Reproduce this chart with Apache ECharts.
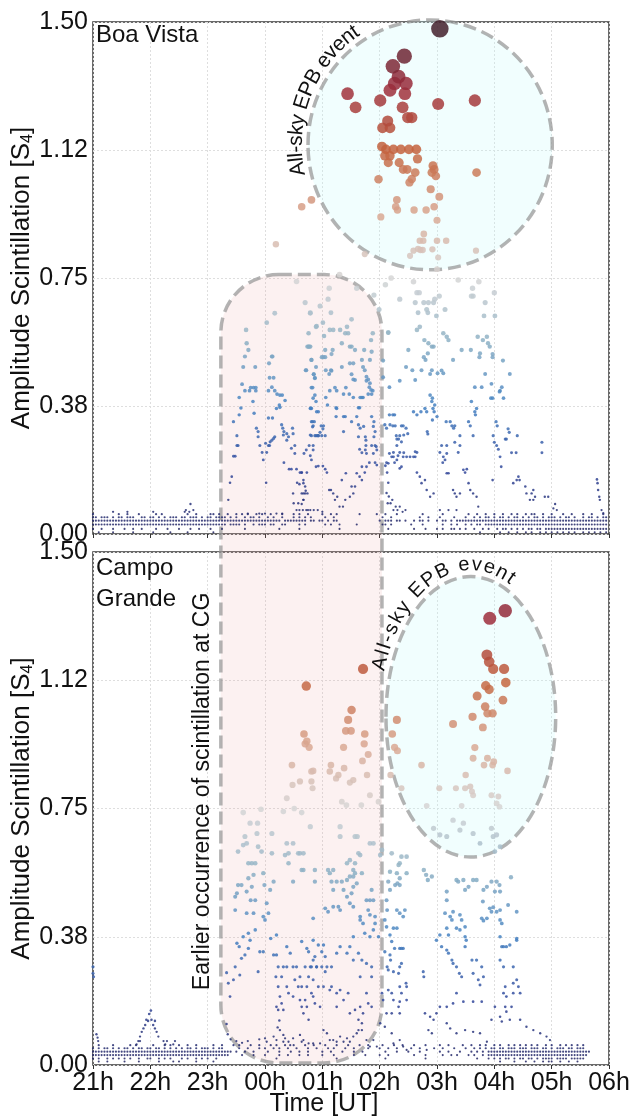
<!DOCTYPE html>
<html><head><meta charset="utf-8">
<script src="https://cdn.jsdelivr.net/npm/echarts@6/dist/echarts.min.js"></script>
<style>html,body{margin:0;padding:0;background:#fff}#c{width:633px;height:1119px}</style>
</head><body><div id="c"></div>
<script>
// ---------- tick labels ----------
const xTickLabels = ['21h','22h','23h','00h','01h','02h','03h','04h','05h','06h'];
const yTickLabels = ['0.00','0.38','0.75','1.12','1.50'];
const panelNames = ['Boa Vista', 'Campo\nGrande'];

// ---------- Boa Vista (top)  [hours since 21:00 UT, S4] ----------
const bvHigh = [[6.05,1.48],[5.43,1.40],[5.23,1.37],[5.33,1.34],[5.46,1.32],[5.26,1.32],[5.18,1.30],[5.44,1.29],[4.44,1.29],[4.58,1.25],[5.01,1.27],[5.40,1.25],[6.02,1.26],[6.66,1.27],[5.49,1.22],[5.56,1.22],[5.14,1.21],[5.05,1.19],[5.18,1.19],[5.04,1.135],[5.11,1.127],[5.24,1.127],[5.37,1.127],[5.51,1.127],[5.64,1.127],[5.09,1.108],[5.18,1.108],[5.15,1.088],[5.66,1.099],[5.34,1.088],[5.41,1.068],[5.48,1.068],[5.62,1.059],[5.56,1.04],[5.52,1.03],[5.93,1.079],[5.95,1.068],[5.91,1.059],[5.98,1.049],[6.69,1.059],[4.98,1.039],[5.89,1.01],[6.04,0.988],[5.30,0.979],[5.28,0.959],[5.31,0.949],[5.60,0.949],[5.81,0.949],[5.95,0.959],[5.02,0.929],[6.00,0.919],[3.81,0.979],[3.64,0.959],[3.19,0.849],[5.77,0.879],[5.70,0.859],[5.76,0.859],[6.00,0.859],[6.16,0.859],[5.59,0.83],[5.67,0.835],[5.71,0.832],[5.75,0.832],[5.92,0.834],[6.68,0.83],[5.53,0.815],[6.02,0.81],[4.74,0.82],[6.00,0.776]];
const bvUpper = [[5.35,0.688],[5.59,0.739],[5.65,0.707],[5.69,0.707],[5.62,0.678],[5.67,0.648],[5.77,0.678],[5.85,0.678],[5.82,0.658],[5.84,0.648],[5.94,0.678],[5.96,0.688],[6.04,0.697],[5.99,0.639],[6.14,0.658],[6.37,0.744],[6.62,0.72],[6.63,0.697],[6.60,0.697],[6.73,0.739],[6.84,0.678],[7.00,0.707],[6.82,0.639],[7.01,0.639],[4.99,0.658],[3.70,0.678],[3.96,0.668],[4.10,0.688],[4.12,0.72],[3.79,0.648],[4.15,0.648],[3.90,0.609],[4.01,0.619],[4.03,0.58],[3.76,0.588],[3.03,0.619],[3.17,0.647],[3.79,0.647],[3.89,0.607],[5.15,0.59],[4.51,0.629],[5.10,0.73],[5.20,0.75],[4.90,0.70],[4.60,0.72],[3.55,0.74],[4.30,0.76]];
const bvMidA = [[2.36,0.10],[2.39,0.15],[2.42,0.168],[2.45,0.228],[2.48,0.228],[2.51,0.259],[2.53,0.259],[2.51,0.288],[2.45,0.329],[2.55,0.349],[2.58,0.369],[2.55,0.40],[2.60,0.439],[2.65,0.42],[2.73,0.42],[2.75,0.429],[2.80,0.429],[2.84,0.429],[2.84,0.42],[2.79,0.388],[2.62,0.489],[2.83,0.489],[2.65,0.52],[2.71,0.539],[2.68,0.559],[2.67,0.598],[2.81,0.354],[2.85,0.31],[2.88,0.30],[2.88,0.285],[2.91,0.259],[2.95,0.239],[2.97,0.217],[3.01,0.266],[3.03,0.239],[3.06,0.259],[3.09,0.27],[3.02,0.15],[3.07,0.50],[3.08,0.458],[3.15,0.458],[3.12,0.52],[3.13,0.52],[3.06,0.42],[3.12,0.43],[3.17,0.42],[3.21,0.41],[3.26,0.407],[3.30,0.407],[3.35,0.391],[3.20,0.368],[3.25,0.378],[3.26,0.371],[3.06,0.34],[3.13,0.34],[3.29,0.32],[3.31,0.31],[3.33,0.30],[3.38,0.294],[3.41,0.285],[3.38,0.275],[3.32,0.29],[3.48,0.31],[3.49,0.294],[3.52,0.259],[3.46,0.251],[3.52,0.236],[3.17,0.285],[3.12,0.275],[3.08,0.259],[3.15,0.28],[3.33,0.209],[3.42,0.19],[3.46,0.19],[3.55,0.19],[3.61,0.18],[3.64,0.18],[3.67,0.158],[3.70,0.139],[3.71,0.127],[3.67,0.119],[3.49,0.119],[3.56,0.15],[3.60,0.146],[3.67,0.10],[3.64,0.088],[3.68,0.236],[3.72,0.246],[3.77,0.259],[3.79,0.229],[3.81,0.217],[3.84,0.246],[3.84,0.259],[3.87,0.288],[3.91,0.288],[3.93,0.288],[3.83,0.314],[3.79,0.29],[3.81,0.329],[3.72,0.48],[3.81,0.51],[3.85,0.468],[3.87,0.456],[3.81,0.429],[3.84,0.398],[3.79,0.368],[3.80,0.369],[3.76,0.549],[3.79,0.549],[3.89,0.489]];
const bvMidB = [[3.74,0.549],[3.77,0.549],[4.05,0.539],[4.18,0.539],[4.16,0.527],[4.19,0.598],[4.13,0.598],[4.31,0.598],[4.34,0.559],[4.45,0.588],[4.48,0.549],[4.51,0.549],[4.57,0.539],[4.73,0.539],[4.86,0.534],[4.85,0.568],[4.88,0.588],[4.43,0.607],[4.40,0.588],[3.81,0.51],[3.99,0.518],[4.02,0.518],[4.05,0.518],[4.06,0.48],[4.15,0.48],[4.16,0.478],[4.34,0.489],[4.48,0.50],[4.54,0.50],[4.69,0.51],[4.71,0.489],[4.74,0.48],[4.83,0.51],[3.71,0.48],[3.85,0.468],[3.87,0.458],[4.12,0.469],[4.51,0.468],[4.54,0.453],[4.57,0.451],[4.77,0.461],[4.80,0.453],[4.83,0.442],[4.82,0.43],[4.77,0.449],[4.85,0.422],[3.83,0.429],[4.06,0.40],[4.09,0.378],[4.13,0.42],[4.22,0.429],[4.25,0.42],[4.37,0.41],[4.41,0.429],[4.47,0.41],[4.54,0.40],[4.66,0.40],[4.69,0.40],[4.71,0.40],[4.80,0.41],[4.86,0.41],[4.88,0.42],[3.87,0.407],[3.89,0.388],[3.93,0.358],[3.90,0.358],[3.81,0.368],[3.83,0.329],[3.86,0.329],[3.84,0.317],[3.98,0.317],[4.02,0.317],[3.81,0.288],[3.89,0.288],[3.93,0.288],[3.96,0.298],[4.01,0.308],[3.99,0.288],[4.05,0.288],[4.24,0.37],[4.25,0.368],[4.24,0.344],[4.37,0.344],[4.40,0.344],[4.51,0.329],[4.37,0.30],[4.63,0.37],[4.65,0.37],[4.60,0.344],[4.63,0.32],[4.66,0.31],[4.72,0.315],[4.75,0.285],[4.63,0.285],[4.76,0.275],[4.86,0.344],[4.90,0.329],[4.89,0.315],[4.92,0.30],[4.75,0.246],[4.69,0.238],[4.65,0.248],[4.76,0.259],[4.77,0.236],[4.86,0.259],[4.92,0.259],[4.90,0.285],[4.94,0.256],[4.95,0.246],[3.64,0.18],[3.73,0.18],[3.67,0.149],[3.64,0.119],[3.70,0.119],[3.74,0.119],[3.67,0.10],[3.72,0.07],[3.79,0.07],[3.89,0.197],[3.93,0.199],[4.01,0.199],[4.05,0.19],[4.08,0.18],[4.12,0.129],[4.15,0.129],[4.19,0.119],[4.22,0.10],[4.26,0.109],[4.30,0.08],[4.36,0.08],[4.40,0.10],[4.48,0.109],[4.54,0.119],[4.51,0.139],[4.57,0.139],[4.34,0.158],[4.41,0.178],[4.60,0.178],[4.69,0.197],[4.65,0.168],[4.69,0.158],[4.77,0.197],[4.74,0.18],[4.82,0.209],[4.89,0.236],[4.92,0.209],[4.95,0.202]];
const bvMidC = [[5.15,0.59],[5.50,0.539],[5.65,0.598],[5.70,0.607],[5.78,0.568],[5.85,0.559],[5.91,0.549],[5.94,0.549],[5.84,0.529],[5.77,0.518],[5.80,0.51],[6.11,0.588],[6.17,0.578],[6.20,0.568],[6.43,0.539],[6.59,0.539],[6.71,0.578],[6.80,0.568],[6.87,0.578],[6.89,0.559],[6.92,0.549],[6.75,0.529],[6.74,0.518],[6.97,0.527],[6.97,0.518],[7.15,0.508],[6.28,0.51],[6.11,0.471],[6.08,0.479],[6.01,0.471],[5.91,0.48],[5.88,0.469],[5.73,0.48],[5.62,0.451],[5.57,0.48],[5.46,0.489],[5.35,0.449],[5.17,0.43],[5.06,0.459],[5.06,0.508],[6.84,0.469],[7.27,0.469],[6.66,0.43],[6.78,0.43],[6.95,0.44],[7.10,0.42],[7.09,0.417],[7.13,0.43],[6.94,0.398],[6.97,0.398],[7.16,0.398],[6.60,0.388],[6.69,0.368],[6.66,0.358],[6.67,0.349],[6.55,0.329],[6.58,0.317],[6.63,0.288],[7.03,0.329],[7.05,0.317],[6.98,0.288],[7.24,0.308],[7.26,0.298],[7.21,0.278],[7.19,0.278],[7.40,0.288],[7.00,0.269],[7.04,0.259],[7.07,0.248],[7.10,0.226],[7.30,0.238],[7.38,0.238],[7.12,0.197],[7.83,0.269],[7.83,0.238],[6.97,0.158],[7.33,0.149],[7.42,0.168],[7.44,0.158],[7.39,0.158],[7.54,0.139],[7.56,0.119],[7.65,0.119],[7.68,0.129],[7.62,0.10],[7.68,0.10],[7.71,0.109],[7.88,0.109],[7.94,0.109],[8.06,0.088],[8.09,0.07],[8.03,0.075],[8.79,0.16],[8.80,0.149],[8.81,0.129],[8.83,0.109],[8.84,0.10],[8.87,0.07],[8.90,0.061],[5.09,0.32],[5.12,0.31],[5.17,0.349],[5.23,0.349],[5.26,0.349],[5.18,0.32],[5.23,0.317],[5.27,0.317],[5.29,0.288],[5.30,0.278],[5.33,0.278],[5.35,0.288],[5.38,0.317],[5.41,0.317],[5.46,0.31],[5.49,0.294],[5.42,0.29],[5.38,0.27],[5.30,0.259],[5.24,0.239],[5.21,0.226],[5.15,0.207],[5.12,0.209],[5.17,0.236],[5.59,0.358],[5.65,0.349],[5.72,0.358],[5.79,0.368],[5.82,0.358],[5.91,0.388],[5.88,0.407],[5.92,0.398],[5.96,0.378],[5.93,0.368],[5.95,0.358],[6.00,0.344],[5.92,0.334],[5.83,0.30],[5.84,0.293],[6.16,0.329],[6.23,0.329],[6.26,0.317],[6.29,0.31],[6.31,0.317],[6.40,0.288],[6.31,0.269],[6.40,0.259],[6.37,0.239],[6.17,0.259],[6.08,0.259],[6.05,0.239],[6.17,0.236],[6.14,0.217],[6.11,0.226],[6.10,0.209],[5.62,0.241],[5.62,0.226],[5.65,0.239],[5.59,0.226],[5.53,0.226],[5.47,0.226],[5.42,0.238],[5.41,0.226],[5.35,0.239],[5.32,0.229],[5.30,0.217],[5.38,0.197],[5.35,0.192],[5.26,0.209],[5.24,0.226],[5.65,0.18],[5.70,0.168],[5.73,0.149],[5.79,0.158],[5.82,0.129],[5.88,0.109],[5.94,0.119],[6.17,0.178],[6.20,0.178],[6.28,0.129],[6.31,0.119],[6.34,0.109],[6.40,0.119],[6.46,0.188],[6.49,0.18],[6.52,0.19],[6.55,0.149],[6.58,0.129],[6.63,0.119],[6.69,0.109],[6.72,0.08],[6.34,0.07],[6.20,0.07],[6.05,0.07]];
const bvLow = [[3.55,0.07],[3.60,0.07],[3.66,0.07],[3.75,0.07],[3.85,0.07],[3.92,0.07],[4.00,0.065],[3.50,0.09],[3.58,0.09],[2.70,0.06],[2.90,0.06],[3.00,0.06],[3.20,0.06],[3.30,0.06],[5.13,0.18],[5.15,0.15],[5.12,0.12],[5.14,0.09],[5.19,0.09],[5.24,0.07],[5.31,0.07],[5.40,0.065],[5.10,0.20],[5.16,0.11],[5.22,0.10],[5.28,0.08],[5.35,0.08],[5.45,0.07],[1.70,0.088],[1.62,0.07],[1.75,0.07],[0.60,0.065],[0.35,0.065],[1.05,0.065],[1.60,0.065],[1.68,0.065]];
// background rows: one character per 3-minute bin from 21:00 UT ('1' = sample present)
const bvBaseLevels = [0.005, 0.015, 0.028, 0.039, 0.049, 0.058];
const bvBaseRows = [
 "..1....1.. ....1..... .1.....1.. ...1...... ..1....... .......... .......... .......... .......... .......... .......... .......... .......... .....1.... ..1..1..1. .1.1..1.1. 1.1.1.1.1. .1.1.1.1.1",
 "1..1...1.. .1..1..1.. ..1...1... 1...1..1.. .1...1.... ...1...... .....1.... ..1....... ......1... .......... ...1...... ..1...1... 1.1..11.1. 1..1..1.1. .1.11.1.1. 1.11.11.11 1111111111 1111111111",
 "1111111111 1111111111 1111111111 1111111111 1111111.11 11.1..1.11 1.11..11.. ..1.1..... .1.1..1... ..1....... .11.1..... .1...1.... ..1..1.1.. 1.1.11.111 1111111111 1111111111 1111111111 1111111111",
 "1111111111 1111111111 1111111111 1111111111 1111111111 1111111111 111111.111 11111.11.1 1.1.11.... .......... 1.111.11.1 ..1.11.1.. 1.11.1.111 1111111111 1111111111 1111111111 1111111111 1111111111",
 "11.111.1.1 1.111..11. 11.1.1.111 .11.111.1. 11.1111.1. 1..1.11.1. .1.1..1... 1.1.1.1... .1..1..... .......... .1..1..... ....1..1.. .1....1... 1..1.1.11. 1.11.1.11. 1.1.11.1.1 11.1.11.1. .1.11.1.11",
 "1........1 ..1...1... ..1.1..... ...1..1... .11.1..1.. 1.1.1..1.1 ..1...1... 1.1..1.... 1..1.1.... ...1.....1 ..1...1... .....1.... ..1....... .1..1..1.. 1..1..1.1. .1.11..1.. 1...1..1.. .1..1...1."
];

// ---------- Campo Grande (bottom) ----------
const cgHigh = [[7.19,1.328],[6.92,1.306],[6.87,1.199],[6.91,1.179],[6.98,1.158],[7.17,1.158],[7.20,1.118],[6.85,1.109],[6.91,1.098],[6.70,1.079],[7.15,1.067],[6.84,1.048],[6.62,1.018],[6.88,1.028],[6.97,1.028],[6.80,0.987],[6.28,0.997],[6.66,0.928],[6.63,0.897],[6.88,0.897],[6.99,0.887],[6.82,0.877],[6.97,0.877],[7.23,0.86],[6.50,0.848],[5.73,0.877],[5.30,1.009],[5.22,0.968],[5.26,0.929],[5.31,0.919],[4.71,1.158],[3.72,1.108],[4.51,1.038],[4.45,1.009],[4.41,0.977],[4.50,0.977],[4.74,0.968],[3.68,0.968],[3.73,0.947],[3.70,0.939],[3.77,0.929],[4.37,0.929],[4.73,0.939],[4.80,0.908],[4.70,0.889],[4.15,0.877],[4.13,0.858],[4.24,0.838],[4.28,0.848],[4.38,0.868],[4.54,0.833],[4.48,0.826],[4.78,0.848],[3.81,0.858],[3.84,0.86],[3.81,0.829],[3.83,0.809],[3.47,0.877],[3.48,0.819],[3.61,0.829],[5.19,0.848],[5.38,0.809],[6.04,0.809],[6.33,0.809],[6.49,0.809],[6.58,0.814],[6.61,0.80],[6.63,0.789],[6.95,0.789],[7.07,0.785],[7.04,0.765],[7.09,0.755],[4.34,0.77],[4.42,0.76],[4.68,0.76],[4.83,0.789],[4.98,0.77],[5.82,0.758],[6.43,0.758],[3.38,0.78],[3.51,0.75],[2.93,0.748],[2.62,0.738],[3.32,0.741],[3.64,0.738]];
const cgUpper = [[2.53,0.624],[2.62,0.643],[2.68,0.648],[2.86,0.677],[2.88,0.638],[2.94,0.624],[2.77,0.59],[2.83,0.59],[2.71,0.59],[2.80,0.556],[3.12,0.677],[3.12,0.619],[3.38,0.648],[3.41,0.619],[3.49,0.648],[3.58,0.619],[3.61,0.619],[3.64,0.57],[3.67,0.57],[3.79,0.697],[3.87,0.536],[3.49,0.536],[3.41,0.59],[3.35,0.614],[3.15,0.536],[3.09,0.512],[2.97,0.561],[2.74,0.707],[2.65,0.668],[2.87,0.707],[2.48,0.492],[2.51,0.502],[2.53,0.526],[2.59,0.526],[2.68,0.507],[2.71,0.546],[2.77,0.521],[2.83,0.482],[2.99,0.526],[2.75,0.482],[4.31,0.697],[4.57,0.668],[4.61,0.668],[4.31,0.668],[4.83,0.648],[4.89,0.648],[4.63,0.619],[4.66,0.614],[4.48,0.599],[4.43,0.59],[4.57,0.59],[3.67,0.619],[3.87,0.57],[4.10,0.57],[4.19,0.57],[4.54,0.57],[4.13,0.561],[4.16,0.536],[4.34,0.536],[4.43,0.541],[4.48,0.551],[4.54,0.551],[4.57,0.561],[4.69,0.561],[4.25,0.536],[4.37,0.512],[4.19,0.512],[4.60,0.531],[4.54,0.521],[4.86,0.512],[5.04,0.629],[5.01,0.614],[5.21,0.619],[5.38,0.609],[5.47,0.609],[5.35,0.59],[5.33,0.585],[5.18,0.565],[5.15,0.536],[5.30,0.561],[5.35,0.546],[5.31,0.531],[5.27,0.526],[5.35,0.526],[5.47,0.561],[5.18,0.512],[5.77,0.57],[5.81,0.556],[5.84,0.541],[5.91,0.551],[6.17,0.507],[6.34,0.541],[6.37,0.536],[6.46,0.541],[6.49,0.512],[6.55,0.521],[6.63,0.541],[6.69,0.541],[6.81,0.512],[6.87,0.521],[6.95,0.536],[7.04,0.536],[7.09,0.526],[7.10,0.507],[7.29,0.549],[7.01,0.507],[5.94,0.692],[6.05,0.673],[6.17,0.668],[6.40,0.687],[6.63,0.677],[6.75,0.648],[6.95,0.692],[6.98,0.668],[7.04,0.673],[7.10,0.638],[7.01,0.624],[6.46,0.707],[6.28,0.716]];
const cgMidA = [[2.33,0.27],[2.36,0.239],[2.39,0.20],[2.45,0.249],[2.48,0.287],[2.51,0.356],[2.55,0.346],[2.56,0.263],[2.59,0.312],[2.62,0.375],[2.65,0.322],[2.71,0.385],[2.71,0.341],[2.74,0.365],[2.68,0.444],[2.80,0.444],[2.83,0.395],[2.48,0.453],[2.88,0.273],[2.97,0.331],[2.91,0.331],[3.00,0.424],[2.97,0.434],[3.03,0.473],[3.06,0.444],[3.10,0.37],[3.15,0.322],[3.20,0.322],[3.20,0.38],[3.19,0.258],[3.23,0.287],[3.29,0.258],[3.32,0.287],[3.38,0.287],[3.38,0.346],[3.44,0.327],[3.49,0.287],[3.52,0.249],[3.55,0.287],[3.61,0.258],[3.64,0.229],[3.70,0.19],[3.73,0.229],[3.79,0.287],[3.84,0.307],[3.90,0.287],[3.23,0.229],[3.26,0.20],[3.29,0.18],[3.32,0.161],[3.23,0.161],[3.38,0.229],[3.41,0.21],[3.49,0.20],[3.58,0.229],[3.61,0.19],[3.64,0.17],[3.67,0.151],[3.26,0.102],[3.32,0.088],[3.35,0.078],[3.41,0.068],[3.49,0.078],[3.61,0.088],[3.67,0.073],[3.32,0.068],[3.44,0.058],[3.00,0.078],[3.03,0.068],[3.15,0.083],[3.20,0.073],[3.20,0.17],[3.25,0.13],[3.22,0.11],[2.33,0.12],[2.35,0.09],[2.40,0.075],[2.50,0.07],[2.60,0.065],[2.70,0.07],[2.90,0.075]];
const cgMidB = [[3.84,0.429],[4.05,0.458],[4.10,0.448],[4.19,0.463],[4.28,0.463],[4.31,0.453],[4.43,0.492],[4.48,0.473],[4.51,0.502],[4.54,0.463],[4.66,0.434],[4.66,0.424],[4.71,0.414],[4.77,0.482],[4.80,0.453],[4.83,0.482],[4.83,0.439],[4.89,0.482],[4.89,0.395],[4.92,0.434],[4.92,0.414],[3.64,0.361],[3.73,0.341],[3.76,0.331],[3.84,0.365],[3.93,0.351],[4.02,0.351],[3.99,0.331],[4.05,0.317],[3.87,0.317],[3.70,0.287],[3.81,0.287],[3.90,0.287],[3.99,0.287],[4.08,0.287],[4.05,0.273],[4.16,0.287],[3.76,0.258],[3.84,0.249],[3.93,0.229],[4.02,0.229],[4.16,0.229],[4.13,0.219],[4.25,0.21],[4.31,0.219],[3.84,0.20],[3.87,0.18],[3.73,0.17],[3.96,0.17],[3.76,0.132],[3.81,0.21],[4.25,0.17],[4.37,0.19],[4.45,0.21],[4.48,0.151],[4.57,0.161],[4.66,0.17],[4.63,0.132],[4.69,0.122],[4.71,0.151],[4.77,0.21],[4.80,0.18],[4.86,0.17],[4.86,0.258],[4.66,0.258],[4.86,0.287],[4.77,0.297],[4.69,0.307],[4.63,0.327],[4.54,0.307],[4.48,0.346],[4.43,0.327],[4.31,0.346],[4.25,0.327],[4.54,0.375],[4.74,0.385],[4.83,0.375],[4.98,0.375],[4.02,0.102],[4.08,0.093],[4.13,0.073],[4.19,0.073],[4.25,0.068],[4.31,0.083],[4.37,0.068],[4.43,0.078],[4.48,0.068],[4.54,0.083],[4.60,0.093],[4.63,0.102],[4.69,0.102],[4.77,0.073],[4.83,0.054],[4.89,0.073],[4.95,0.054],[3.76,0.063],[3.84,0.063],[3.96,0.063],[3.64,0.068]];
const cgMidC = [[5.09,0.424],[5.12,0.404],[5.24,0.40],[5.30,0.40],[5.18,0.38],[5.21,0.361],[5.26,0.341],[5.35,0.341],[5.38,0.341],[5.41,0.341],[5.09,0.331],[5.18,0.322],[5.19,0.307],[5.13,0.287],[5.15,0.278],[5.24,0.273],[5.33,0.268],[5.35,0.287],[5.38,0.297],[5.46,0.239],[5.47,0.229],[5.35,0.229],[5.38,0.21],[5.21,0.21],[5.15,0.219],[5.04,0.21],[5.06,0.19],[5.24,0.19],[5.35,0.185],[5.33,0.17],[5.47,0.19],[5.12,0.151],[5.21,0.151],[5.35,0.151],[5.01,0.122],[5.09,0.112],[5.21,0.093],[5.35,0.073],[5.24,0.063],[5.41,0.054],[5.47,0.044],[5.12,0.482],[5.13,0.453],[5.30,0.453],[5.35,0.444],[5.44,0.453],[5.41,0.434],[6.80,0.478],[6.92,0.458],[6.95,0.448],[6.78,0.429],[6.81,0.422],[6.87,0.429],[6.98,0.461],[7.04,0.448],[7.10,0.453],[7.10,0.424],[7.13,0.414],[7.24,0.468],[7.39,0.448],[6.17,0.482],[6.28,0.448],[6.14,0.444],[6.23,0.434],[6.26,0.424],[6.40,0.439],[6.43,0.424],[6.49,0.404],[6.34,0.40],[6.17,0.40],[6.20,0.38],[6.40,0.395],[6.05,0.38],[5.99,0.365],[6.08,0.346],[6.17,0.336],[6.20,0.327],[6.26,0.307],[6.28,0.297],[6.34,0.287],[6.39,0.268],[6.43,0.258],[6.49,0.375],[6.51,0.365],[6.49,0.346],[6.61,0.307],[6.69,0.307],[6.78,0.287],[6.81,0.258],[6.72,0.249],[6.75,0.234],[6.63,0.268],[7.10,0.375],[7.13,0.346],[7.10,0.307],[7.16,0.287],[7.33,0.287],[7.39,0.365],[7.39,0.37],[7.27,0.351],[7.21,0.346],[7.16,0.346],[7.39,0.249],[7.42,0.229],[7.45,0.21],[7.33,0.239],[7.19,0.229],[7.16,0.21],[7.21,0.20],[7.19,0.17],[7.21,0.156],[7.33,0.21],[7.30,0.17],[7.27,0.132],[7.45,0.132],[7.56,0.112],[7.68,0.102],[7.80,0.093],[7.91,0.083],[7.97,0.073],[7.10,0.141],[7.13,0.127],[7.01,0.17],[6.95,0.132],[6.78,0.185],[6.63,0.185],[6.46,0.185],[6.34,0.21],[6.28,0.18],[6.17,0.17],[6.05,0.17],[5.99,0.151],[5.94,0.132],[5.88,0.141],[5.79,0.151],[5.85,0.102],[5.91,0.093],[5.82,0.044],[6.17,0.122],[6.23,0.107],[6.34,0.093],[6.49,0.102],[6.63,0.097],[6.75,0.093],[6.87,0.068],[5.76,0.273],[5.77,0.258]];
const cgBump = [[0.00,0.287],[0.00,0.268],[0.01,0.258],[1.01,0.159],[0.98,0.149],[0.93,0.132],[0.96,0.129],[1.02,0.132],[1.08,0.129],[0.91,0.117],[1.05,0.117],[0.88,0.107],[1.08,0.107],[0.85,0.097],[1.11,0.097],[0.82,0.083],[1.14,0.083],[0.79,0.07],[0.82,0.07],[1.23,0.07],[1.29,0.07],[0.76,0.06],[1.26,0.06],[1.40,0.06],[1.43,0.07],[0.06,0.09],[0.08,0.08],[0.09,0.07]];
const cgBaseLevels = [0.010, 0.019, 0.029, 0.039, 0.049, 0.058];
const cgBaseRows = [
 "..1..1.... .1....1... ...1....1. 1.....1... ..1....... .......... .......... .......... .......... .......... .......... .......... .......... .......... ..1....1.. .1..1..1.1 1..1..1..1 ..........",
 "1.1..1.1.1 .1.1..1..1 1..1.1.1.. .1.1..1.1. 1..1...... .......... ....1..... .......... .....1.... .......... ..1....... ......1... .......... ....1...1. 1.1.11.1.1 1.11.1.111 1.1111.111 11........",
 "1111111111 1111111111 1111111111 1111111111 11111111.. ..1...1... 1....1..1. ..1..1.... 1...1..... .1...1.... 1..1...... ..1...1... ..1..1.1.. .1.1..1.11 1111111111 1111111111 1111111111 111.......",
 "1111111111 1111111111 1111111111 1111111111 111111111. 1..1..1... .1...1...1 ..1..1.... 1..1...1.. .1..1..... ..1...1... 1...1..... .1..1...1. ..1.1.1.11 1111111111 1111111111 1111111111 1111......",
 "1.1.11.1.1 .11.1.11.1 1.11.1.1.1 .1.11.1.11 1.1.11.... .1..1...1. 1..1.1..1. .1...1..1. ..1.1...1. .1....1... 1..1..1... .1..1....1 ..1...1... 1..1.1.1.1 1.11.111.1 11.111.11. 1.111.11.1 11........",
 "..1....1.. ...1.1.... .1...1.1.. 1..1..1... ..1..1...1 .1...1..1. ..1.1..1.. 1...1..1.. .1...1...1 ...1..1... .1...1..1. ..1...1... .1..1....1 ..1..1.1.. 1.1..1.1.1 .1.1.1..1. 1..1.1.1.1 .1........"
];

// ---------- annotation geometry (data units) ----------
const epbEllipses = [ {grid:0, t:5.88, s:1.14, dt:2.13, ds:0.366, a0:193, a1:117, spread:false},
                      {grid:1, t:6.59, s:1.018, dt:1.48, ds:0.41,  a0:162, a1:64,  spread:true} ];
const earlyBox = { t0:2.23, sTop:0.76, t1:5.04, sBot:0.006 };   // top in panel 0, bottom in panel 1
const earlyText = { t:1.92, s:0.80, text:'Earlier occurrence of scintillation at CG' };

// ---------- build ----------
function decodeRows(levels, rows){
  const out=[];
  rows.forEach((r,k)=>{ const str=r.replace(/ /g,''); for(let i=0;i<str.length;i++){ if(str[i]==='1') out.push([i*0.05, levels[k]]); } });
  return out;
}
const bvData = decodeRows(bvBaseLevels,bvBaseRows).concat(bvLow,bvMidA,bvMidB,bvMidC,bvUpper,bvHigh).sort((a,b)=>a[1]-b[1]);
const cgData = decodeRows(cgBaseLevels,cgBaseRows).concat(cgBump,cgMidA,cgMidB,cgMidC,cgUpper,cgHigh).sort((a,b)=>a[1]-b[1]);

const FONT = '"Liberation Sans", Arial, sans-serif';
const gridTops = [22, 552], gridH = [512, 513];
function xAxis(i){ return { gridIndex:i, type:'value', min:0, max:9, interval:1,
  axisLine:{show:false}, axisTick:{show:true, length:4, lineStyle:{color:'#333'}},
  axisLabel:{show:i===1, fontSize:25, color:'#111', fontFamily:FONT, margin:6, formatter:v=>xTickLabels[Math.round(v)]},
  splitLine:{show:true, lineStyle:{color:'#dedede', width:1, type:[2,2]}} }; }
function yAxis(i){ return { gridIndex:i, type:'value', min:0, max:1.5, interval:0.375,
  axisLine:{show:false}, axisTick:{show:false},
  axisLabel:{fontSize:25, color:'#111', fontFamily:FONT, margin:5, formatter:v=>yTickLabels[Math.round(v/0.375)]},
  splitLine:{show:true, lineStyle:{color:'#dedede', width:1, type:[2,2]}},
  name:'Amplitude Scintillation [S{sub|4}]', nameLocation:'middle', nameRotate:90, nameGap:57, nameMoveOverlap:false,
  nameTextStyle:{fontSize:26, color:'#111', fontFamily:FONT, rich:{sub:{fontSize:16, color:'#111', fontFamily:FONT, padding:[12,0,0,0]}}} }; }
const sizeFn = d => 2 + 4*d[1] + 2*Math.pow(d[1],4);
const chart = echarts.init(document.getElementById('c'), null, {renderer:'canvas'});
chart.setOption({
  animation:false, backgroundColor:'#fff',
  grid:[0,1].map(i=>({left:93, top:gridTops[i], width:516, height:gridH[i], containLabel:false, outerBoundsMode:'none',
    show:true, borderColor:'#3a3a3a', borderWidth:1.5, backgroundColor:'transparent'})),
  xAxis:[xAxis(0), xAxis(1)], yAxis:[yAxis(0), yAxis(1)],
  visualMap:[{type:'continuous', show:false, min:0, max:1.5, dimension:1, seriesIndex:[0,1],
    inRange:{color:['#20215e','#33499c','#4582c2','#8cb0c4','#d6d6d6','#d9a791','#c4643e','#9c2c3c','#3a1f2a']}}],
  series:[bvData, cgData].map((d,i)=>({type:'scatter', xAxisIndex:i, yAxisIndex:i, data:d, symbolSize:sizeFn,
    large:false, progressive:0, silent:true, itemStyle:{opacity:0.85}, z:3}))
});

// ---------- annotations ----------
const g = [];
const P = (gi,t,s)=>chart.convertToPixel({gridIndex:gi},[t,s]);
{ const a=P(0,earlyBox.t0,earlyBox.sTop), b=P(1,earlyBox.t1,earlyBox.sBot);
  g.push({type:'rect', z:1, shape:{x:a[0], y:a[1], width:b[0]-a[0], height:b[1]-a[1], r:58},
    style:{fill:'rgba(235,150,150,0.13)', stroke:'rgba(150,150,150,0.72)', lineWidth:3.5, lineDash:[13,6]}}); }
const ctx = document.createElement('canvas').getContext('2d');
function arcText(str, cx, cy, rx, ry, a0, a1, fs, spread){
  ctx.font = fs+'px '+FONT;
  const chars=[...str], ws=chars.map(c=>ctx.measureText(c).width), W=ws.reduce((p,q)=>p+q,0);
  const N=600, tab=[]; let L=0, prev=null;
  for(let i=0;i<=N;i++){ const th=(a0+(a1-a0)*i/N)*Math.PI/180; const x=cx+rx*Math.cos(th), y=cy-ry*Math.sin(th);
    if(prev) L+=Math.hypot(x-prev[0],y-prev[1]); prev=[x,y]; tab.push({th,x,y,L}); }
  const extra = spread ? Math.max(0,(L-W)/(chars.length-1)) : 0;
  let s=0;
  chars.forEach((c,k)=>{ const sc=s+ws[k]/2; s+=ws[k]+extra;
    let j=0; while(j<N && tab[j+1].L<sc) j++;
    const p=tab[Math.min(j,N)]; const th=p.th;
    const rot=Math.atan2(-ry*Math.cos(th), rx*Math.sin(th));
    g.push({type:'text', z:10, x:p.x, y:p.y, rotation:rot,
      style:{text:c, fontSize:fs, fontFamily:FONT, fill:'#111', align:'center', verticalAlign:'middle'}}); });
}
epbEllipses.forEach(e=>{
  const c=P(e.grid,e.t,e.s), r=P(e.grid,e.t+e.dt,e.s+e.ds);
  const rx=r[0]-c[0], ry=c[1]-r[1];
  g.push({type:'ellipse', z:1, shape:{cx:c[0], cy:c[1], rx, ry},
    style:{fill:'rgba(190,250,250,0.22)', stroke:'rgba(150,150,150,0.72)', lineWidth:3.5, lineDash:[13,6]}});
  arcText('All-sky EPB event', c[0], c[1], rx+12, ry+12, e.a0, e.a1, e.spread ? 20 : 21, e.spread);
});
{ const p=P(1,earlyText.t,earlyText.s);
  g.push({type:'text', z:10, x:p[0], y:p[1], rotation:Math.PI/2,
    style:{text:earlyText.text, fontSize:23, fontFamily:FONT, fill:'#111', align:'center', verticalAlign:'middle'}}); }
g.push({type:'text', z:10, x:96, y:35, style:{text:panelNames[0], fontSize:24, fontFamily:FONT, fill:'#111', align:'left', verticalAlign:'middle'}});
g.push({type:'text', z:10, x:96, y:584, style:{text:panelNames[1], fontSize:24, lineHeight:31, fontFamily:FONT, fill:'#111', align:'left', verticalAlign:'middle'}});
g.push({type:'text', z:10, x:324, y:1104, style:{text:'Time [UT]', fontSize:25, fontFamily:FONT, fill:'#111', align:'center', verticalAlign:'middle'}});
chart.setOption({graphic:{elements:g}});
</script></body></html>
